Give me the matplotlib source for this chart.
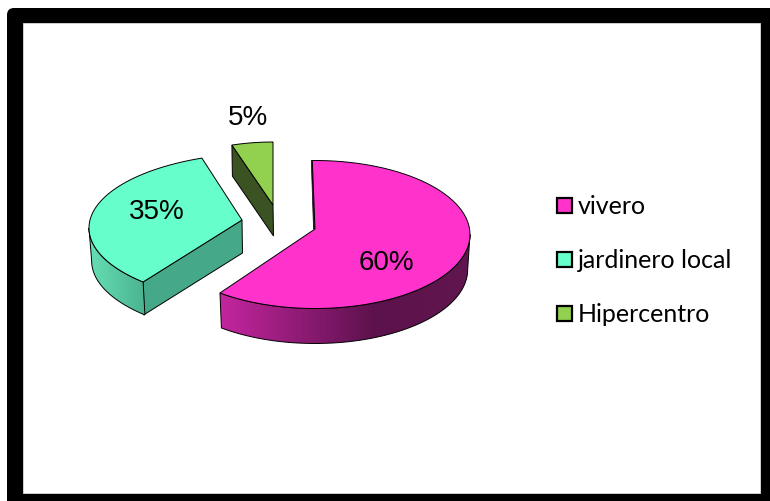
import numpy as np
import matplotlib
matplotlib.use("Agg")
import matplotlib.pyplot as plt
from matplotlib.colors import LinearSegmentedColormap
from matplotlib.patches import FancyBboxPatch, Polygon, Rectangle

# data
categories = ["vivero", "jardinero local", "Hipercentro"]
percent = [60, 35, 5]

# colours
top_colors = ["#FF33CC", "#66FFCC", "#92D050"]
side_colors = ["#5C124C", "#45A888", "#3B5323"]
wall_colors = [[(0, "#C4259F"), (0.62, "#5C124C"), (1, "#62164F")],
               [(0, "#66DFB5"), (1, "#4BB38F")],
               None]

# faked perspective: every slice has its own ellipse (pixels)
# apex, centre, rx, ry, start angle, angle scale, depth, first angle of outer wall
geom = [
    dict(apex=(315, 229), c=(315, 234.5), rx=155, ry=74, a0=-1, k=1.013, depth=35, wall=90),
    dict(apex=(242, 220), c=(266, 228), rx=177, ry=75, a0=27.2, k=0.911, depth=33, wall=270),
    dict(apex=(273, 205), c=(273, 205), rx=133, ry=63, a0=0, k=1.0, depth=31, wall=None),
]


def arc(g, t0, t1, dy=0, shrink=1.0):
    t = np.radians(np.linspace(t0, t1, 80))
    x = g["c"][0] + g["rx"] * shrink * np.sin(t)
    y = g["c"][1] + dy - g["ry"] * np.cos(t)
    return np.column_stack([x, y])


fig = plt.figure(figsize=(7.7, 5.01), dpi=100)
ax = fig.add_axes([0, 0, 1, 1])
ax.axis("off")

# frame
ax.add_patch(FancyBboxPatch((13, 14), 800, 600, boxstyle="round,pad=6,rounding_size=7",
                            fc="black", ec="none", zorder=0))
ax.add_patch(Rectangle((23, 23), 737, 470, fc="white", ec="#DDDDDD", lw=0.6, zorder=1))

cum = np.cumsum([0] + percent) * 3.6
# slices are painted back to front
z = 2
for i in [2, 1, 0]:
    g = geom[i]
    t0 = g["a0"] + g["k"] * cum[i]
    t1 = g["a0"] + g["k"] * cum[i + 1]
    d = g["depth"]
    top = arc(g, t0, t1)
    apex = np.array(g["apex"], dtype=float)

    # flat cut side
    if i == 0:
        # only a sliver shows on the big slice
        side = np.array([top[0], apex, apex + [-1.5, 0], top[0] + [-1, 0]])
    else:
        side = np.array([top[0], apex, apex + [0.5, d], top[0] + [0.5, d]])
    ax.add_patch(Polygon(side, fc=side_colors[i], ec="black", lw=0.5 if i == 0 else 0.7, zorder=z))
    z += 1

    # outer wall, gradient clipped to the shape
    if g["wall"] is not None:
        w0, w1 = sorted([g["wall"], t1 if i == 0 else t0])
        upper = arc(g, w0, w1)
        lower = arc(g, w1, w0, dy=d, shrink=0.985)
        wall = Polygon(np.vstack([upper, lower]), fc="none", ec="black", lw=0.7, zorder=z + 1)
        ax.add_patch(wall)
        xs = wall.get_xy()[:, 0]
        ys = wall.get_xy()[:, 1]
        cmap = LinearSegmentedColormap.from_list("w", wall_colors[i])
        im = ax.imshow(np.linspace(0, 1, 256).reshape(1, -1), cmap=cmap, aspect="auto",
                       extent=[xs.min(), xs.max(), ys.max(), ys.min()], zorder=z)
        clip = Polygon(np.vstack([upper, lower]), transform=ax.transData)
        im.set_clip_path(clip)
        z += 2

    # top face
    ax.add_patch(Polygon(np.vstack([apex, top]), fc=top_colors[i], ec="black", lw=0.7, zorder=z))
    z += 1

ax.set_xlim(0, 770)
ax.set_ylim(501, 0)

# percentage labels
label_pos = [(386, 263), (157, 212), (248, 118)]
for v, (x, y) in zip(percent, label_pos):
    ax.text(x, y, "{}%".format(v), ha="center", va="center", fontsize=20,
            family="Liberation Sans", color="black", zorder=30)

# legend
legend_y = [205.5, 259.5, 313]
for name, col, y in zip(categories, top_colors, legend_y):
    ax.add_patch(Rectangle((557, y - 7.5), 15, 15, fc=col, ec="black", lw=1.6, zorder=30))
    ax.text(578, y + 1.5, name, ha="left", va="center", fontsize=18,
            family="Lato", color="black", zorder=30)

plt.savefig("out.png", dpi=100)
